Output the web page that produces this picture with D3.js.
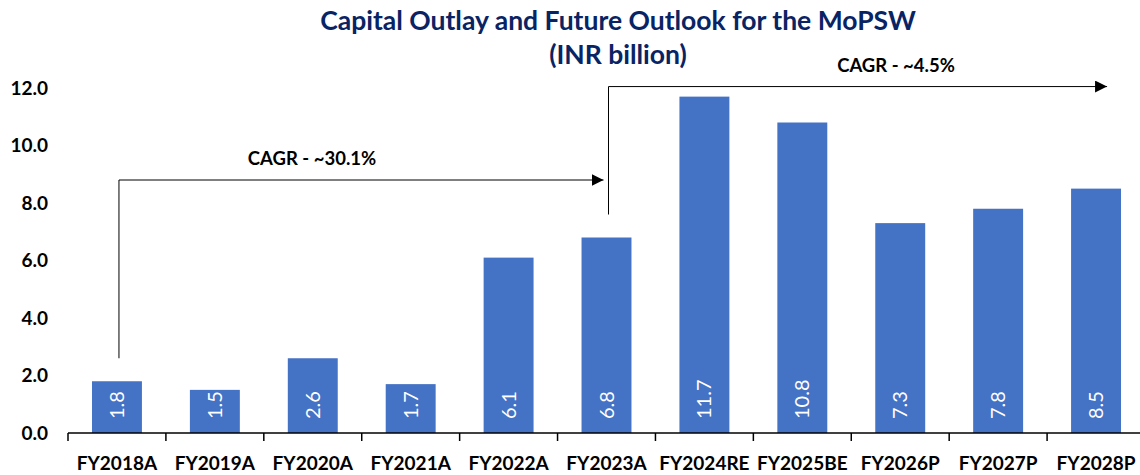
<!DOCTYPE html>
<html><head><meta charset="utf-8">
<script src="https://cdn.jsdelivr.net/npm/d3@7"></script>
<style>body{margin:0;background:#fff;} svg{display:block;}</style>
</head><body>
<svg id="chart" width="1140" height="475"></svg>
<script>
const categories = ["FY2018A","FY2019A","FY2020A","FY2021A","FY2022A","FY2023A","FY2024RE","FY2025BE","FY2026P","FY2027P","FY2028P"];
const values = [1.8,1.5,2.6,1.7,6.1,6.8,11.7,10.8,7.3,7.8,8.5];
const yTicks = [0,2,4,6,8,10,12];
const titleLines = ["Capital Outlay and Future Outlook for the MoPSW","(INR billion)"];
// CAGR annotations: from category, to category, bracket base value, line level value
const cagrLabels = ["CAGR - ~30.1%","CAGR - ~4.5%"];
const cagrFrom = ["FY2018A","FY2023A"];
const cagrTo = ["FY2023A","FY2028P"];
const cagrBase = [2.6,7.6];
const cagrLevel = [8.8,12.05];

const svg = d3.select("#chart");
const font = "Lato, 'Open Sans', sans-serif";
const x = d3.scaleBand().domain(categories).range([68,1145]).paddingInner(0.49).paddingOuter(0.245);
const xb = d3.scaleBand().domain(categories).range([68,1145]);
const y = d3.scaleLinear().domain([0,12]).range([433,88]);

// bars
svg.append("g").selectAll("rect").data(values).join("rect")
  .attr("x",(d,i)=>x(categories[i])).attr("width",x.bandwidth())
  .attr("y",d=>y(d)).attr("height",d=>y(0)-y(d)).attr("fill","#4472C4");

// value labels
svg.append("g").selectAll("text").data(values).join("text")
  .attr("transform",(d,i)=>`translate(${x(categories[i])+x.bandwidth()/2+7},${y(0)-14}) rotate(-90)`)
  .attr("text-anchor","start").attr("fill","#fff")
  .style("font-family",font).style("font-size","20px")
  .text(d=>d.toFixed(1));

// x axis
const xAxisG = svg.append("g").attr("transform",`translate(0,${y(0)})`);
xAxisG.append("line").attr("x1",68).attr("x2",1145).attr("y1",0).attr("y2",0).attr("stroke","#000").attr("stroke-width",1.5);
xAxisG.selectAll("line.tick").data(categories).join("line").attr("class","tick")
  .attr("x1",d=>xb(d)).attr("x2",d=>xb(d)).attr("y1",0).attr("y2",8).attr("stroke","#000").attr("stroke-width",1.5);
xAxisG.selectAll("text").data(categories).join("text")
  .attr("x",d=>xb(d)+xb.bandwidth()/2).attr("y",37).attr("text-anchor","middle")
  .style("font-family",font).style("font-size","19px").style("font-weight","bold").attr("fill","#000")
  .text(d=>d);

// y axis labels
const yAxis = d3.axisLeft(y).tickValues(yTicks).tickFormat(d3.format(".1f")).tickSize(0).tickPadding(0);
const yG = svg.append("g").attr("transform","translate(48,0)").call(yAxis);
yG.select(".domain").remove();
yG.selectAll("text").style("font-family",font).style("font-size","19px").style("font-weight","bold").attr("fill","#000");

// title
svg.append("g").selectAll("text").data(titleLines).join("text")
  .attr("x",618).attr("y",(d,i)=>30+i*34).attr("text-anchor","middle")
  .style("font-family",font).style("font-size","26.5px").style("font-weight","bold").attr("fill","#082464")
  .text(d=>d);

// arrow marker
svg.append("defs").append("marker").attr("id","arr").attr("viewBox","0 0 10 10").attr("refX",10).attr("refY",5)
  .attr("markerWidth",12).attr("markerHeight",12).attr("markerUnits","userSpaceOnUse").attr("orient","auto")
  .append("path").attr("d","M0,0L10,5L0,10Z").attr("fill","#000");

// CAGR brackets
const cx = c => xb(c)+xb.bandwidth()/2;
cagrLabels.forEach((lab,i)=>{
  const x0 = cx(cagrFrom[i])+2;
  const g = svg.append("g");
  g.append("path").attr("d",`M${x0},${y(cagrBase[i])}V${y(cagrLevel[i])}H${i===0?cx(cagrTo[i])-3:xb(cagrTo[i])+60}`)
    .attr("fill","none").attr("stroke","#000").attr("stroke-width",1).attr("marker-end","url(#arr)");
  g.append("text").attr("x",i===0?312:896).attr("y",y(cagrLevel[i])-15).attr("text-anchor","middle")
    .style("font-family",font).style("font-size","18.5px").style("font-weight","bold").attr("fill","#000").text(lab);
});
</script>
</body></html>
